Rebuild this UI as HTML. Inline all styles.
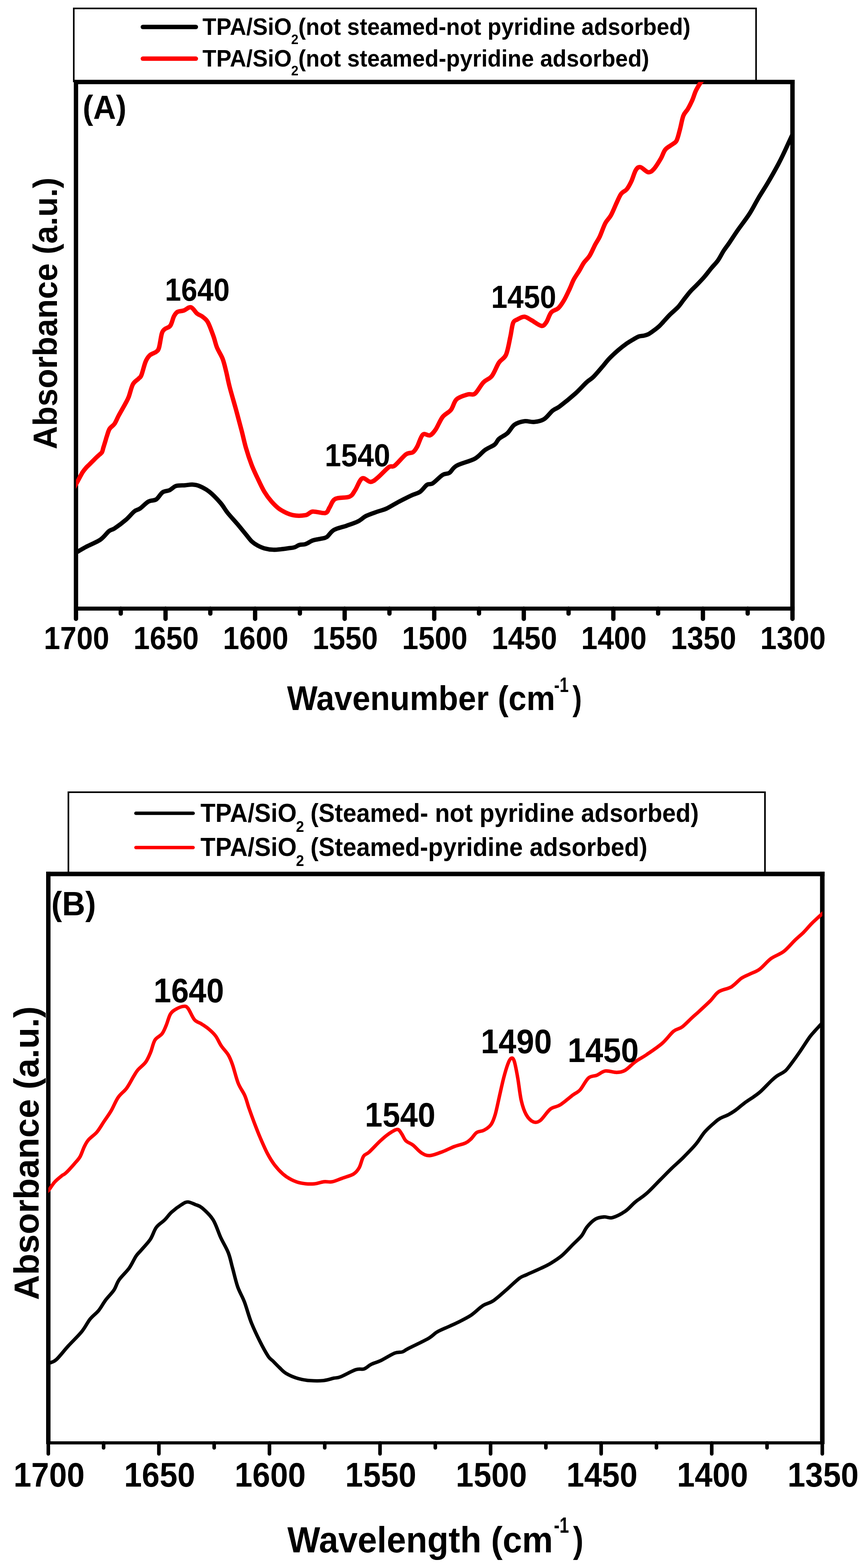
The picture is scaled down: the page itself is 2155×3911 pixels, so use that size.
<!DOCTYPE html>
<html><head><meta charset="utf-8"><title>FTIR spectra of pyridine adsorbed on TPA/SiO2</title>
<style>html,body{margin:0;padding:0;background:#fff;width:2155px;height:3911px;overflow:hidden;} svg{display:block;}</style></head>
<body>
<svg width="2155" height="3911" viewBox="0 0 2155 3911" font-family="'Liberation Sans', Arial, Helvetica, sans-serif" font-weight="bold">
<rect x="184" y="21" width="1701.8" height="182" fill="#fff" stroke="#000" stroke-width="4"/>
<line x1="356.3" y1="67.25" x2="488.5" y2="67.25" stroke="#000" stroke-width="11" stroke-linecap="round"/>
<line x1="356.3" y1="146.3" x2="488.5" y2="146.3" stroke="#f00" stroke-width="11" stroke-linecap="round"/>
<text transform="translate(504.95,87.10) scale(0.9530,1)" font-size="59.5">TPA/SiO</text>
<text transform="translate(726.27,109.90) scale(0.9294,1)" font-size="35.0">2</text>
<text transform="translate(744.06,87.10) scale(0.9456,1)" font-size="59.5">(not steamed-not pyridine adsorbed)</text>
<text transform="translate(504.95,165.60) scale(0.9530,1)" font-size="59.5">TPA/SiO</text>
<text transform="translate(726.27,188.40) scale(0.9294,1)" font-size="35.0">2</text>
<text transform="translate(744.06,165.60) scale(0.9457,1)" font-size="59.5">(not steamed-pyridine adsorbed)</text>
<line x1="189.5" y1="199.4" x2="189.5" y2="1523.0" stroke="#000" stroke-width="10.9"/>
<line x1="1976.6" y1="199.4" x2="1976.6" y2="1523.0" stroke="#000" stroke-width="11"/>
<line x1="184.1" y1="204.4" x2="1982.1" y2="204.4" stroke="#000" stroke-width="11"/>
<line x1="184.1" y1="1518.0" x2="1982.1" y2="1518.0" stroke="#000" stroke-width="10"/>
<line x1="189.50" y1="1518.0" x2="189.50" y2="1543.5" stroke="#000" stroke-width="10.8" stroke-linecap="round"/>
<text transform="translate(190.90,1619.00) scale(0.9305,1)" font-size="78.9" text-anchor="middle">1700</text>
<line x1="301.19" y1="1518.0" x2="301.19" y2="1530.4" stroke="#000" stroke-width="10.8" stroke-linecap="round"/>
<line x1="412.89" y1="1518.0" x2="412.89" y2="1543.5" stroke="#000" stroke-width="10.8" stroke-linecap="round"/>
<text transform="translate(414.29,1619.00) scale(0.9305,1)" font-size="78.9" text-anchor="middle">1650</text>
<line x1="524.58" y1="1518.0" x2="524.58" y2="1530.4" stroke="#000" stroke-width="10.8" stroke-linecap="round"/>
<line x1="636.27" y1="1518.0" x2="636.27" y2="1543.5" stroke="#000" stroke-width="10.8" stroke-linecap="round"/>
<text transform="translate(637.67,1619.00) scale(0.9305,1)" font-size="78.9" text-anchor="middle">1600</text>
<line x1="747.97" y1="1518.0" x2="747.97" y2="1530.4" stroke="#000" stroke-width="10.8" stroke-linecap="round"/>
<line x1="859.66" y1="1518.0" x2="859.66" y2="1543.5" stroke="#000" stroke-width="10.8" stroke-linecap="round"/>
<text transform="translate(861.06,1619.00) scale(0.9305,1)" font-size="78.9" text-anchor="middle">1550</text>
<line x1="971.36" y1="1518.0" x2="971.36" y2="1530.4" stroke="#000" stroke-width="10.8" stroke-linecap="round"/>
<line x1="1083.05" y1="1518.0" x2="1083.05" y2="1543.5" stroke="#000" stroke-width="10.8" stroke-linecap="round"/>
<text transform="translate(1084.45,1619.00) scale(0.9305,1)" font-size="78.9" text-anchor="middle">1500</text>
<line x1="1194.74" y1="1518.0" x2="1194.74" y2="1530.4" stroke="#000" stroke-width="10.8" stroke-linecap="round"/>
<line x1="1306.44" y1="1518.0" x2="1306.44" y2="1543.5" stroke="#000" stroke-width="10.8" stroke-linecap="round"/>
<text transform="translate(1307.84,1619.00) scale(0.9305,1)" font-size="78.9" text-anchor="middle">1450</text>
<line x1="1418.13" y1="1518.0" x2="1418.13" y2="1530.4" stroke="#000" stroke-width="10.8" stroke-linecap="round"/>
<line x1="1529.83" y1="1518.0" x2="1529.83" y2="1543.5" stroke="#000" stroke-width="10.8" stroke-linecap="round"/>
<text transform="translate(1531.23,1619.00) scale(0.9305,1)" font-size="78.9" text-anchor="middle">1400</text>
<line x1="1641.52" y1="1518.0" x2="1641.52" y2="1530.4" stroke="#000" stroke-width="10.8" stroke-linecap="round"/>
<line x1="1753.21" y1="1518.0" x2="1753.21" y2="1543.5" stroke="#000" stroke-width="10.8" stroke-linecap="round"/>
<text transform="translate(1754.61,1619.00) scale(0.9305,1)" font-size="78.9" text-anchor="middle">1350</text>
<line x1="1864.91" y1="1518.0" x2="1864.91" y2="1530.4" stroke="#000" stroke-width="10.8" stroke-linecap="round"/>
<line x1="1976.60" y1="1518.0" x2="1976.60" y2="1543.5" stroke="#000" stroke-width="10.8" stroke-linecap="round"/>
<text transform="translate(1978.00,1619.00) scale(0.9305,1)" font-size="78.9" text-anchor="middle">1300</text>
<clipPath id="ca"><rect x="189.5" y="204.4" width="1787.10" height="1313.60"/></clipPath>
<g clip-path="url(#ca)">
<path d="M183.0,1381.5 C184.3,1380.9 185.2,1380.8 190.6,1377.8 C196.0,1374.8 205.2,1369.0 215.2,1363.7 C225.2,1358.4 241.1,1352.5 250.5,1346.0 C259.9,1339.5 265.7,1329.7 271.6,1325.0 C277.5,1320.3 278.6,1322.7 285.7,1318.0 C292.8,1313.3 305.7,1303.8 313.9,1296.7 C322.1,1289.6 329.1,1280.3 335.0,1275.6 C340.9,1270.9 343.2,1272.6 349.1,1268.5 C355.0,1264.4 363.5,1254.8 370.3,1251.0 C377.1,1247.2 383.8,1249.4 389.7,1245.6 C395.6,1241.8 399.9,1231.8 405.5,1228.0 C411.1,1224.2 417.5,1225.3 423.1,1222.7 C428.7,1220.1 432.5,1214.2 439.0,1212.2 C445.5,1210.2 455.1,1211.0 461.9,1210.4 C468.6,1209.8 473.6,1208.3 479.5,1208.6 C485.4,1208.9 490.1,1209.2 497.1,1212.2 C504.2,1215.2 513.0,1219.3 521.8,1226.3 C530.6,1233.3 542.4,1245.6 550.0,1254.4 C557.6,1263.2 560.6,1270.2 567.6,1279.0 C574.6,1287.8 584.7,1298.3 592.3,1307.3 C599.9,1316.3 607.4,1325.8 613.4,1333.0 C619.4,1340.2 623.4,1346.1 628.2,1350.7 C633.0,1355.3 637.1,1357.8 642.3,1360.6 C647.5,1363.4 652.6,1365.9 659.2,1367.7 C665.8,1369.5 674.7,1370.9 681.7,1371.2 C688.8,1371.5 695.1,1370.4 701.5,1369.8 C707.9,1369.2 714.2,1368.2 719.8,1367.4 C725.4,1366.6 730.8,1366.2 735.3,1364.8 C739.8,1363.4 742.1,1360.5 746.6,1359.2 C751.1,1357.9 756.5,1359.0 762.1,1357.1 C767.7,1355.2 774.1,1350.1 780.4,1347.9 C786.7,1345.7 794.2,1345.1 800.0,1343.7 C805.8,1342.3 809.5,1343.1 815.0,1339.5 C820.5,1335.9 824.5,1326.6 832.7,1321.9 C840.9,1317.2 854.4,1314.8 864.4,1311.3 C874.4,1307.8 884.4,1304.8 892.6,1300.7 C900.8,1296.6 905.5,1290.8 913.7,1286.7 C921.9,1282.6 933.7,1279.0 941.9,1276.0 C950.1,1273.0 954.2,1273.1 963.0,1269.0 C971.8,1264.9 984.1,1257.0 994.7,1251.4 C1005.3,1245.8 1017.7,1239.7 1026.5,1235.6 C1035.3,1231.5 1041.1,1231.2 1047.6,1226.8 C1054.0,1222.4 1059.9,1212.6 1065.2,1209.1 C1070.5,1205.6 1072.8,1209.7 1079.3,1205.6 C1085.8,1201.5 1097.0,1188.9 1104.0,1184.5 C1111.0,1180.1 1115.3,1183.0 1121.1,1179.2 C1126.9,1175.4 1128.2,1167.5 1138.8,1161.6 C1149.4,1155.7 1172.9,1150.5 1184.6,1144.0 C1196.3,1137.5 1201.0,1128.7 1209.2,1122.8 C1217.4,1116.9 1228.0,1113.4 1233.9,1108.7 C1239.8,1104.0 1239.2,1099.3 1244.5,1094.6 C1249.8,1089.9 1259.1,1086.4 1265.6,1080.5 C1272.0,1074.6 1276.2,1064.4 1283.2,1059.4 C1290.2,1054.4 1299.7,1051.8 1307.9,1050.6 C1316.1,1049.4 1324.4,1053.3 1332.6,1052.4 C1340.8,1051.5 1349.6,1050.0 1357.2,1045.3 C1364.8,1040.6 1371.9,1029.5 1378.4,1024.2 C1384.9,1018.9 1386.6,1020.7 1396.0,1013.6 C1405.4,1006.5 1423.5,991.9 1434.7,981.9 C1445.9,971.9 1455.3,960.8 1462.9,953.7 C1470.5,946.7 1473.5,946.7 1480.5,939.6 C1487.5,932.5 1498.7,919.0 1505.2,911.4 C1511.7,903.8 1513.5,900.7 1519.7,894.3 C1525.9,887.9 1535.2,879.3 1542.3,873.2 C1549.3,867.1 1555.9,862.1 1562.0,857.7 C1568.1,853.4 1573.7,850.2 1578.9,847.1 C1584.1,844.0 1588.5,840.9 1593.0,839.3 C1597.5,837.6 1601.7,838.1 1605.7,837.2 C1609.7,836.3 1613.0,835.7 1617.0,833.7 C1621.0,831.7 1625.2,828.5 1629.7,825.2 C1634.2,821.9 1639.7,817.7 1643.8,814.0 C1647.9,810.3 1649.7,807.9 1654.2,803.0 C1658.8,798.1 1665.0,790.7 1671.1,784.6 C1677.2,778.5 1685.2,772.4 1690.9,766.3 C1696.6,760.2 1699.8,754.6 1705.0,748.0 C1710.2,741.4 1716.5,732.9 1721.9,726.8 C1727.3,720.7 1731.5,717.4 1737.4,711.3 C1743.3,705.2 1751.0,697.2 1757.1,690.2 C1763.2,683.2 1768.4,675.9 1774.0,669.1 C1779.6,662.3 1785.7,656.6 1790.9,649.3 C1796.1,642.0 1800.3,632.7 1805.0,625.4 C1809.7,618.1 1813.3,614.1 1819.1,605.6 C1824.9,597.1 1831.7,586.3 1840.0,574.3 C1848.3,562.3 1860.3,547.3 1869.0,533.8 C1877.7,520.3 1884.3,506.4 1892.0,493.4 C1899.7,480.4 1907.0,469.8 1915.2,455.8 C1923.4,441.8 1934.5,422.1 1941.2,409.6 C1947.9,397.1 1950.3,391.8 1955.6,380.7 C1960.9,369.6 1968.6,352.4 1973.0,343.0 C1977.4,333.6 1980.5,327.2 1982.0,324.0" fill="none" stroke="#000" stroke-width="10.8" stroke-linejoin="round"/>
<path d="M183.0,1220.0 C184.0,1218.1 186.7,1213.2 189.1,1208.7 C191.5,1204.2 194.9,1198.2 197.7,1193.0 C200.5,1187.8 203.3,1182.2 206.1,1177.8 C208.9,1173.4 211.8,1170.0 214.6,1166.8 C217.4,1163.6 220.3,1161.2 223.1,1158.4 C225.9,1155.6 228.7,1152.7 231.5,1149.9 C234.3,1147.1 237.2,1144.1 240.0,1141.4 C242.8,1138.7 246.0,1136.0 248.4,1133.8 C250.8,1131.5 252.8,1130.7 254.3,1127.9 C255.9,1125.1 256.7,1120.1 257.7,1116.9 C258.7,1113.7 259.4,1111.5 260.3,1108.5 C261.2,1105.5 262.2,1102.4 263.2,1099.0 C264.2,1095.6 264.8,1092.9 266.5,1088.0 C268.2,1083.1 270.2,1074.7 273.4,1069.5 C276.6,1064.3 281.9,1062.6 285.7,1057.0 C289.5,1051.4 291.9,1044.2 296.3,1036.0 C300.7,1027.8 308.0,1015.5 312.1,1007.8 C316.2,1000.1 317.8,998.2 321.0,990.0 C324.2,981.8 327.4,966.1 331.5,958.5 C335.6,950.9 342.1,948.2 345.6,944.4 C349.1,940.6 349.8,942.7 352.7,935.6 C355.6,928.5 359.7,910.3 363.2,902.0 C366.7,893.7 369.4,890.1 373.8,886.0 C378.2,881.9 385.9,880.6 389.7,877.4 C393.5,874.2 394.4,874.4 396.7,866.8 C399.0,859.2 401.3,839.2 403.7,831.6 C406.1,824.0 407.3,824.2 410.8,821.0 C414.3,817.8 421.1,817.5 424.9,812.2 C428.7,806.9 430.8,795.0 433.7,789.3 C436.6,783.6 438.4,780.5 442.5,778.0 C446.6,775.5 452.8,776.4 458.4,774.5 C464.0,772.6 470.4,765.1 476.0,766.4 C481.6,767.7 487.1,778.5 491.8,782.3 C496.5,786.1 499.8,785.8 504.2,789.3 C508.6,792.8 513.6,795.2 518.3,803.4 C523.0,811.6 528.6,828.1 532.4,838.7 C536.2,849.3 537.4,857.4 541.2,866.8 C545.0,876.2 551.5,885.0 555.3,895.0 C559.1,905.0 561.2,915.0 564.1,926.8 C567.0,938.5 568.8,949.6 572.9,965.5 C577.0,981.4 583.7,1003.7 588.7,1021.9 C593.7,1040.1 598.7,1058.9 602.8,1074.7 C606.9,1090.5 609.3,1102.9 613.4,1117.0 C617.5,1131.1 622.8,1147.0 627.5,1159.3 C632.2,1171.6 636.3,1179.8 641.6,1191.0 C646.9,1202.2 653.2,1216.2 659.2,1226.3 C665.2,1236.4 671.0,1244.0 677.6,1251.4 C684.2,1258.8 690.0,1265.2 698.8,1270.8 C707.6,1276.4 719.9,1282.6 730.5,1284.9 C741.1,1287.2 754.0,1286.4 762.2,1284.9 C770.4,1283.4 771.6,1276.9 779.8,1276.0 C788.0,1275.1 804.5,1281.3 811.5,1279.6 C818.5,1277.8 818.0,1271.4 822.1,1265.5 C826.2,1259.6 828.0,1248.8 836.2,1244.4 C844.4,1240.0 863.2,1242.5 871.4,1239.0 C879.6,1235.5 880.2,1230.8 885.5,1223.2 C890.8,1215.6 896.6,1196.8 903.1,1193.3 C909.6,1189.8 917.8,1202.3 924.3,1202.0 C930.8,1201.7 934.3,1197.7 941.9,1191.5 C949.5,1185.3 963.0,1170.0 970.0,1165.0 C977.0,1160.0 977.1,1166.9 984.2,1161.6 C991.3,1156.3 1004.8,1139.0 1012.4,1133.4 C1020.0,1127.8 1025.3,1131.2 1030.0,1128.0 C1034.7,1124.8 1036.4,1121.3 1040.5,1114.0 C1044.6,1106.7 1049.3,1088.7 1054.6,1084.0 C1059.9,1079.3 1067.0,1087.8 1072.3,1085.8 C1077.6,1083.8 1081.1,1079.3 1086.4,1071.7 C1091.7,1064.1 1097.6,1048.2 1104.0,1040.0 C1110.4,1031.8 1118.9,1029.7 1124.7,1022.4 C1130.5,1015.1 1131.8,1002.5 1138.8,996.0 C1145.8,989.5 1159.4,986.1 1167.0,983.7 C1174.6,981.4 1178.1,986.9 1184.6,981.9 C1191.0,976.9 1198.7,961.1 1205.7,953.7 C1212.7,946.4 1220.3,946.0 1226.8,937.8 C1233.3,929.6 1238.6,913.2 1244.5,904.4 C1250.4,895.6 1257.3,895.6 1262.0,885.0 C1266.7,874.4 1269.8,854.2 1272.7,841.0 C1275.7,827.8 1276.8,813.1 1279.7,805.7 C1282.6,798.4 1285.6,799.5 1290.3,796.9 C1295.0,794.3 1302.0,789.6 1307.9,789.9 C1313.8,790.2 1318.5,794.9 1325.5,798.7 C1332.5,802.5 1344.0,811.9 1350.2,812.8 C1356.4,813.7 1358.4,809.6 1362.5,804.0 C1366.6,798.4 1369.8,785.2 1374.8,779.3 C1379.8,773.4 1387.2,773.7 1392.5,768.7 C1397.8,763.7 1401.9,757.2 1406.6,749.3 C1411.3,741.4 1416.5,729.8 1420.6,721.1 C1424.7,712.5 1426.9,705.1 1431.0,697.4 C1435.1,689.7 1440.9,681.9 1445.1,674.9 C1449.3,667.9 1452.2,661.2 1456.4,655.1 C1460.6,649.0 1465.8,645.7 1470.5,638.2 C1475.2,630.7 1480.4,618.0 1484.6,610.0 C1488.8,602.0 1491.6,599.2 1495.8,590.3 C1500.0,581.4 1505.2,565.4 1509.9,556.5 C1514.6,547.6 1519.3,545.2 1524.0,536.7 C1528.7,528.2 1533.9,514.6 1538.1,505.7 C1542.3,496.8 1545.2,488.8 1549.4,483.2 C1553.6,477.6 1559.3,477.1 1563.5,471.9 C1567.7,466.7 1571.0,460.2 1574.8,452.2 C1578.5,444.2 1582.2,429.9 1586.0,424.0 C1589.8,418.1 1592.1,416.0 1597.3,416.9 C1602.5,417.8 1611.3,428.9 1617.0,429.6 C1622.7,430.3 1626.0,426.8 1631.2,421.2 C1636.4,415.6 1643.4,403.8 1648.1,395.8 C1652.8,387.8 1654.6,379.1 1659.3,373.2 C1664.0,367.3 1671.6,364.2 1676.3,360.5 C1681.0,356.8 1684.2,357.0 1687.5,350.7 C1690.8,344.4 1693.2,332.8 1696.0,322.5 C1698.8,312.2 1701.1,297.2 1704.4,288.7 C1707.7,280.2 1711.9,278.3 1715.7,271.7 C1719.5,265.1 1723.7,256.7 1727.0,249.2 C1730.3,241.7 1732.2,233.6 1735.5,226.6 C1738.8,219.6 1743.8,211.6 1746.7,207.0 C1749.6,202.4 1752.0,200.3 1753.0,199.0" fill="none" stroke="#f00" stroke-width="11" stroke-linejoin="round"/>
</g>
<text transform="translate(206.26,296.90) scale(0.9358,1)" font-size="84.0">(A)</text>
<text transform="translate(411.29,750.10) scale(0.9216,1)" font-size="78.9">1640</text>
<text transform="translate(810.05,1162.90) scale(0.9299,1)" font-size="78.9">1540</text>
<text transform="translate(1225.08,767.90) scale(0.9240,1)" font-size="78.9">1450</text>
<text transform="translate(715.90,1770.90) scale(0.9540,1)" font-size="84.5">Wavenumber (cm</text>
<text transform="translate(1382.11,1725.90) scale(0.7929,1)" font-size="51.4">-1</text>
<text transform="translate(1427.90,1770.90) scale(0.8292,1)" font-size="84.5">)</text>
<text transform="translate(141.90,1120.71) rotate(-90) scale(0.9558,1)" font-size="84.0">Absorbance (a.u.)</text>
<rect x="170.6" y="1976" width="1737.4" height="205" fill="#fff" stroke="#000" stroke-width="4"/>
<line x1="339" y1="2028.5" x2="481.7" y2="2028.5" stroke="#000" stroke-width="8.6" stroke-linecap="round"/>
<line x1="339" y1="2114" x2="481.7" y2="2114" stroke="#f00" stroke-width="8.4" stroke-linecap="round"/>
<text transform="translate(500.05,2049.90) scale(0.9548,1)" font-size="64.0">TPA/SiO</text>
<text transform="translate(738.15,2074.80) scale(0.9526,1)" font-size="38.0">2</text>
<text transform="translate(774.15,2049.90) scale(0.9495,1)" font-size="64.0">(Steamed- not pyridine adsorbed)</text>
<text transform="translate(500.05,2135.00) scale(0.9548,1)" font-size="64.0">TPA/SiO</text>
<text transform="translate(738.15,2159.90) scale(0.9526,1)" font-size="38.0">2</text>
<text transform="translate(774.15,2135.00) scale(0.9494,1)" font-size="64.0">(Steamed-pyridine adsorbed)</text>
<line x1="120.5" y1="2174.3" x2="120.5" y2="3601.9" stroke="#000" stroke-width="11"/>
<line x1="2051.0" y1="2174.3" x2="2051.0" y2="3601.9" stroke="#000" stroke-width="11.3"/>
<line x1="115.0" y1="2179.9" x2="2056.6" y2="2179.9" stroke="#000" stroke-width="11.2"/>
<line x1="120.5" y1="3598.9" x2="2051.0" y2="3598.9" stroke="#000" stroke-width="7.9"/>
<line x1="120.50" y1="3598.9" x2="120.50" y2="3626.2" stroke="#000" stroke-width="9" stroke-linecap="round"/>
<text transform="translate(122.40,3708.30) scale(0.9273,1)" font-size="86.0" text-anchor="middle">1700</text>
<line x1="258.39" y1="3598.9" x2="258.39" y2="3611.2" stroke="#000" stroke-width="9" stroke-linecap="round"/>
<line x1="396.29" y1="3598.9" x2="396.29" y2="3626.2" stroke="#000" stroke-width="9" stroke-linecap="round"/>
<text transform="translate(398.19,3708.30) scale(0.9273,1)" font-size="86.0" text-anchor="middle">1650</text>
<line x1="534.18" y1="3598.9" x2="534.18" y2="3611.2" stroke="#000" stroke-width="9" stroke-linecap="round"/>
<line x1="672.07" y1="3598.9" x2="672.07" y2="3626.2" stroke="#000" stroke-width="9" stroke-linecap="round"/>
<text transform="translate(673.97,3708.30) scale(0.9273,1)" font-size="86.0" text-anchor="middle">1600</text>
<line x1="809.96" y1="3598.9" x2="809.96" y2="3611.2" stroke="#000" stroke-width="9" stroke-linecap="round"/>
<line x1="947.86" y1="3598.9" x2="947.86" y2="3626.2" stroke="#000" stroke-width="9" stroke-linecap="round"/>
<text transform="translate(949.76,3708.30) scale(0.9273,1)" font-size="86.0" text-anchor="middle">1550</text>
<line x1="1085.75" y1="3598.9" x2="1085.75" y2="3611.2" stroke="#000" stroke-width="9" stroke-linecap="round"/>
<line x1="1223.64" y1="3598.9" x2="1223.64" y2="3626.2" stroke="#000" stroke-width="9" stroke-linecap="round"/>
<text transform="translate(1225.54,3708.30) scale(0.9273,1)" font-size="86.0" text-anchor="middle">1500</text>
<line x1="1361.54" y1="3598.9" x2="1361.54" y2="3611.2" stroke="#000" stroke-width="9" stroke-linecap="round"/>
<line x1="1499.43" y1="3598.9" x2="1499.43" y2="3626.2" stroke="#000" stroke-width="9" stroke-linecap="round"/>
<text transform="translate(1501.33,3708.30) scale(0.9273,1)" font-size="86.0" text-anchor="middle">1450</text>
<line x1="1637.32" y1="3598.9" x2="1637.32" y2="3611.2" stroke="#000" stroke-width="9" stroke-linecap="round"/>
<line x1="1775.21" y1="3598.9" x2="1775.21" y2="3626.2" stroke="#000" stroke-width="9" stroke-linecap="round"/>
<text transform="translate(1777.11,3708.30) scale(0.9273,1)" font-size="86.0" text-anchor="middle">1400</text>
<line x1="1913.11" y1="3598.9" x2="1913.11" y2="3611.2" stroke="#000" stroke-width="9" stroke-linecap="round"/>
<line x1="2051.00" y1="3598.9" x2="2051.00" y2="3626.2" stroke="#000" stroke-width="9" stroke-linecap="round"/>
<text transform="translate(2052.90,3708.30) scale(0.9273,1)" font-size="86.0" text-anchor="middle">1350</text>
<clipPath id="cb"><rect x="120.5" y="2179.9" width="1930.50" height="1419.00"/></clipPath>
<g clip-path="url(#cb)">
<path d="M114.0,3404.5 C115.6,3403.7 119.1,3401.9 123.5,3399.7 C127.9,3397.5 132.7,3398.3 140.4,3391.3 C148.2,3384.3 159.4,3369.1 170.0,3357.5 C180.6,3345.9 194.6,3332.8 203.8,3321.5 C213.0,3310.2 217.9,3298.6 225.0,3289.8 C232.1,3281.0 239.8,3276.4 246.1,3268.7 C252.4,3260.9 256.7,3251.8 263.0,3243.3 C269.3,3234.8 278.5,3226.4 284.1,3217.9 C289.7,3209.4 290.5,3201.8 296.8,3192.6 C303.1,3183.4 315.1,3172.9 322.2,3163.0 C329.2,3153.1 334.2,3140.8 339.1,3133.4 C344.0,3126.0 345.8,3125.7 351.8,3118.6 C357.8,3111.5 368.7,3100.6 375.0,3091.1 C381.3,3081.6 383.8,3069.6 389.8,3061.5 C395.8,3053.4 404.6,3048.8 411.0,3042.5 C417.4,3036.2 420.8,3029.8 427.9,3023.4 C434.9,3017.1 446.6,3008.6 453.3,3004.4 C460.0,3000.2 462.5,2998.0 468.1,2998.0 C473.7,2998.0 481.1,3001.9 487.1,3004.4 C493.1,3006.9 496.6,3006.6 504.0,3012.9 C511.4,3019.2 523.8,3030.2 531.5,3042.5 C539.2,3054.8 544.2,3073.1 550.5,3086.8 C556.8,3100.5 564.6,3112.2 569.5,3124.9 C574.4,3137.6 576.2,3148.9 580.1,3163.0 C584.0,3177.1 587.9,3195.4 592.8,3209.5 C597.7,3223.6 604.1,3232.7 609.7,3247.5 C615.3,3262.3 620.2,3282.1 626.6,3298.3 C633.0,3314.5 640.8,3330.7 647.8,3344.8 C654.8,3358.9 663.5,3374.6 668.9,3382.8 C674.3,3391.0 675.3,3389.3 680.0,3394.0 C684.7,3398.7 691.3,3405.7 696.9,3411.0 C702.5,3416.3 706.0,3421.2 713.8,3425.8 C721.5,3430.4 733.5,3435.5 743.4,3438.4 C753.3,3441.3 762.4,3442.7 773.0,3443.5 C783.6,3444.3 796.9,3444.5 806.8,3443.5 C816.7,3442.5 825.2,3439.2 832.2,3437.6 C839.2,3436.0 839.9,3437.7 849.1,3434.2 C858.3,3430.7 877.3,3419.7 887.2,3416.4 C897.1,3413.1 902.0,3416.5 908.3,3414.3 C914.6,3412.1 918.2,3406.8 925.2,3403.3 C932.2,3399.8 940.7,3397.9 950.6,3393.2 C960.5,3388.5 975.6,3378.5 984.4,3375.0 C993.2,3371.5 997.9,3373.9 1003.5,3372.0 C1009.1,3370.1 1007.4,3369.2 1018.3,3363.6 C1029.2,3358.0 1057.0,3345.1 1069.0,3338.2 C1081.0,3331.3 1081.7,3327.1 1090.2,3322.2 C1098.7,3317.3 1111.3,3312.5 1119.8,3308.6 C1128.2,3304.7 1131.8,3303.6 1140.9,3298.9 C1150.1,3294.2 1164.1,3287.8 1174.7,3280.7 C1185.3,3273.6 1195.1,3262.6 1204.3,3256.6 C1213.5,3250.6 1219.8,3251.5 1229.7,3244.8 C1239.6,3238.2 1252.6,3226.1 1263.5,3216.7 C1274.4,3207.3 1287.0,3194.7 1295.2,3188.5 C1303.4,3182.3 1304.1,3183.8 1312.9,3179.7 C1321.7,3175.6 1338.1,3168.6 1348.1,3163.9 C1358.1,3159.2 1364.0,3156.8 1372.8,3151.5 C1381.6,3146.2 1391.6,3140.1 1401.0,3132.2 C1410.4,3124.3 1420.9,3112.2 1429.1,3104.0 C1437.3,3095.8 1444.4,3090.1 1450.3,3082.8 C1456.2,3075.5 1458.5,3067.1 1464.4,3060.0 C1470.3,3052.9 1478.5,3044.6 1485.5,3040.5 C1492.5,3036.4 1499.7,3035.9 1506.7,3035.3 C1513.8,3034.7 1519.0,3039.3 1527.8,3037.0 C1536.6,3034.7 1550.1,3027.6 1559.5,3021.2 C1568.9,3014.8 1575.4,3005.7 1584.2,2998.3 C1593.0,2991.0 1601.8,2986.5 1612.4,2977.1 C1623.0,2967.7 1637.0,2952.5 1647.6,2941.9 C1658.2,2931.3 1666.4,2922.8 1675.8,2913.7 C1685.2,2904.6 1694.0,2897.3 1704.0,2887.3 C1714.0,2877.3 1726.7,2864.5 1735.7,2853.8 C1744.7,2843.1 1750.1,2832.2 1758.0,2823.2 C1765.9,2814.1 1776.5,2805.1 1782.9,2799.5 C1789.3,2793.9 1790.8,2792.6 1796.4,2789.4 C1802.0,2786.2 1810.3,2783.7 1816.7,2780.3 C1823.1,2776.9 1827.9,2774.0 1834.7,2769.1 C1841.5,2764.2 1849.4,2756.8 1857.3,2751.0 C1865.2,2745.2 1875.3,2739.0 1882.1,2734.1 C1888.9,2729.2 1890.8,2728.3 1897.9,2721.7 C1905.1,2715.1 1918.2,2701.0 1925.0,2694.6 C1931.8,2688.2 1932.9,2687.3 1938.5,2683.4 C1944.1,2679.5 1952.8,2676.3 1958.8,2671.0 C1964.8,2665.7 1968.5,2659.7 1974.5,2651.8 C1980.5,2643.9 1987.3,2634.5 1994.8,2623.6 C2002.3,2612.7 2013.3,2595.2 2019.7,2586.4 C2026.1,2577.6 2029.1,2575.3 2033.2,2570.6 C2037.3,2565.9 2041.9,2561.1 2044.5,2558.2 C2047.1,2555.3 2046.8,2555.8 2049.0,2553.4 C2051.2,2551.0 2056.5,2545.6 2058.0,2544.0" fill="none" stroke="#000" stroke-width="8.7" stroke-linejoin="round"/>
<path d="M114.0,2976.0 C115.3,2974.7 118.3,2972.6 122.0,2968.0 C125.7,2963.4 130.8,2954.5 136.1,2948.6 C141.4,2942.7 149.1,2936.6 153.8,2932.8 C158.5,2929.0 159.0,2930.7 164.3,2925.7 C169.6,2920.7 179.6,2909.6 185.5,2902.8 C191.4,2896.1 195.5,2892.2 199.6,2885.2 C203.7,2878.1 206.6,2867.5 210.1,2860.5 C213.6,2853.5 215.4,2849.2 220.7,2843.0 C226.0,2836.8 235.4,2831.2 241.9,2823.5 C248.4,2815.8 253.6,2805.9 259.5,2797.1 C265.4,2788.3 271.2,2780.7 277.1,2770.7 C283.0,2760.7 288.2,2746.6 294.7,2737.2 C301.1,2727.8 309.3,2723.1 315.8,2714.3 C322.3,2705.5 328.8,2692.0 333.5,2684.4 C338.2,2676.8 339.0,2674.4 344.0,2668.5 C349.0,2662.6 358.1,2656.4 363.4,2649.1 C368.7,2641.8 371.9,2633.6 375.7,2624.5 C379.5,2615.4 381.6,2602.1 386.3,2594.5 C391.0,2586.9 399.3,2584.9 404.0,2578.7 C408.7,2572.5 411.0,2565.7 414.5,2557.5 C418.0,2549.3 421.0,2536.1 425.1,2529.3 C429.2,2522.6 433.6,2520.2 439.2,2517.0 C444.8,2513.8 453.5,2510.3 458.5,2510.0 C463.5,2509.7 464.7,2509.6 469.1,2515.2 C473.5,2520.8 479.4,2536.9 485.0,2543.4 C490.6,2549.9 496.7,2550.2 502.6,2554.0 C508.5,2557.8 514.3,2561.3 520.2,2566.3 C526.1,2571.3 532.5,2576.9 537.8,2584.0 C543.1,2591.1 546.6,2600.7 551.9,2608.6 C557.2,2616.5 564.8,2623.6 569.5,2631.5 C574.2,2639.4 576.0,2644.4 580.1,2656.2 C584.2,2667.9 589.1,2689.2 594.2,2702.0 C599.3,2714.8 606.1,2722.3 610.6,2732.7 C615.1,2743.1 617.0,2752.7 621.1,2764.4 C625.2,2776.1 630.5,2790.8 635.2,2803.1 C639.9,2815.4 644.0,2826.1 649.3,2838.4 C654.6,2850.7 661.1,2865.9 667.0,2877.1 C672.9,2888.2 678.1,2896.8 684.6,2905.3 C691.1,2913.8 698.7,2922.0 705.7,2928.2 C712.7,2934.4 719.2,2938.5 726.8,2942.3 C734.4,2946.1 742.1,2949.3 751.5,2951.1 C760.9,2952.9 773.8,2953.5 783.2,2952.9 C792.6,2952.3 800.3,2948.5 807.9,2947.6 C815.5,2946.7 821.4,2949.1 829.0,2947.6 C836.6,2946.1 844.9,2942.0 853.7,2938.8 C862.5,2935.6 874.9,2932.6 881.9,2928.2 C888.9,2923.8 891.9,2919.7 896.0,2912.4 C900.1,2905.1 902.5,2890.7 906.6,2884.2 C910.7,2877.7 913.7,2880.1 920.7,2873.6 C927.7,2867.1 940.6,2853.0 948.8,2845.4 C957.0,2837.8 963.0,2832.5 970.0,2827.8 C977.0,2823.1 985.8,2817.2 991.1,2817.2 C996.4,2817.2 998.2,2823.1 1001.7,2827.8 C1005.2,2832.5 1007.6,2840.7 1012.3,2845.4 C1017.0,2850.1 1023.5,2851.0 1029.9,2856.0 C1036.4,2861.0 1044.0,2871.0 1051.0,2875.4 C1058.0,2879.8 1063.2,2882.9 1072.2,2882.4 C1081.2,2881.9 1094.6,2876.0 1104.7,2872.2 C1114.8,2868.4 1123.5,2863.3 1132.9,2859.8 C1142.3,2856.3 1154.0,2854.2 1161.0,2851.0 C1168.0,2847.8 1170.4,2844.9 1175.1,2840.5 C1179.8,2836.1 1183.9,2828.1 1189.2,2824.6 C1194.5,2821.1 1200.9,2822.5 1206.8,2819.3 C1212.7,2816.1 1219.8,2811.7 1224.5,2805.2 C1229.2,2798.7 1231.5,2792.2 1235.0,2780.5 C1238.5,2768.8 1242.1,2750.0 1245.6,2734.7 C1249.1,2719.4 1252.7,2702.4 1256.2,2688.9 C1259.7,2675.4 1263.7,2661.9 1266.8,2653.7 C1269.9,2645.5 1272.3,2640.8 1274.9,2639.6 C1277.5,2638.4 1279.8,2638.5 1282.6,2646.7 C1285.3,2654.9 1288.5,2672.5 1291.4,2688.9 C1294.3,2705.3 1296.7,2730.0 1300.2,2745.3 C1303.7,2760.6 1307.6,2771.7 1312.6,2780.5 C1317.6,2789.3 1324.3,2795.8 1330.2,2798.2 C1336.1,2800.5 1340.8,2799.9 1347.8,2794.6 C1354.8,2789.3 1364.3,2772.9 1372.5,2766.5 C1380.7,2760.1 1387.7,2761.8 1397.1,2755.9 C1406.5,2750.0 1420.6,2737.4 1428.8,2731.2 C1437.0,2725.0 1440.0,2725.9 1446.5,2718.9 C1453.0,2711.9 1460.6,2695.1 1467.6,2688.9 C1474.6,2682.7 1481.7,2684.8 1488.7,2681.9 C1495.8,2679.0 1501.7,2672.5 1509.9,2671.3 C1518.1,2670.1 1529.9,2675.1 1538.1,2674.8 C1546.3,2674.5 1551.4,2674.0 1559.2,2669.6 C1567.0,2665.2 1575.8,2654.7 1584.7,2648.2 C1593.7,2641.7 1601.8,2638.1 1612.9,2630.5 C1624.1,2622.9 1640.4,2612.1 1651.6,2602.4 C1662.8,2592.7 1671.6,2579.2 1679.8,2572.4 C1688.0,2565.6 1693.4,2567.4 1701.0,2561.8 C1708.6,2556.2 1718.6,2545.4 1725.6,2538.9 C1732.6,2532.4 1735.6,2530.1 1743.2,2523.1 C1750.8,2516.1 1763.2,2504.9 1771.4,2496.7 C1779.6,2488.5 1783.8,2479.6 1792.6,2473.7 C1801.4,2467.8 1814.9,2467.0 1824.3,2461.4 C1833.7,2455.8 1841.3,2445.6 1848.9,2440.3 C1856.5,2435.0 1862.5,2433.5 1870.1,2429.7 C1877.7,2425.9 1885.9,2423.8 1894.7,2417.4 C1903.5,2411.0 1912.9,2398.3 1922.9,2391.0 C1932.9,2383.7 1944.6,2381.0 1954.6,2373.3 C1964.6,2365.7 1974.6,2353.0 1982.8,2345.1 C1991.0,2337.2 1997.0,2332.8 2004.0,2325.8 C2011.0,2318.8 2017.5,2310.5 2025.1,2302.9 C2032.7,2295.3 2044.3,2285.1 2049.8,2280.0 C2055.3,2274.9 2056.6,2273.8 2058.0,2272.5" fill="none" stroke="#f00" stroke-width="8.7" stroke-linejoin="round"/>
</g>
<text transform="translate(128.08,2282.80) scale(0.9541,1)" font-size="84.0">(B)</text>
<text transform="translate(383.01,2499.90) scale(0.9186,1)" font-size="86.0">1640</text>
<text transform="translate(910.11,2809.90) scale(0.9186,1)" font-size="86.0">1540</text>
<text transform="translate(1199.27,2626.70) scale(0.9268,1)" font-size="86.0">1490</text>
<text transform="translate(1415.66,2648.90) scale(0.9284,1)" font-size="86.0">1450</text>
<text transform="translate(716.80,3871.80) scale(0.9646,1)" font-size="90.0">Wavelength (cm</text>
<text transform="translate(1381.38,3822.90) scale(0.7609,1)" font-size="55.9">-1</text>
<text transform="translate(1429.20,3871.80) scale(0.8680,1)" font-size="90.0">)</text>
<text transform="translate(95.90,3242.76) rotate(-90) scale(0.9863,1)" font-size="88.0">Absorbance (a.u.)</text>
</svg>
</body></html>
